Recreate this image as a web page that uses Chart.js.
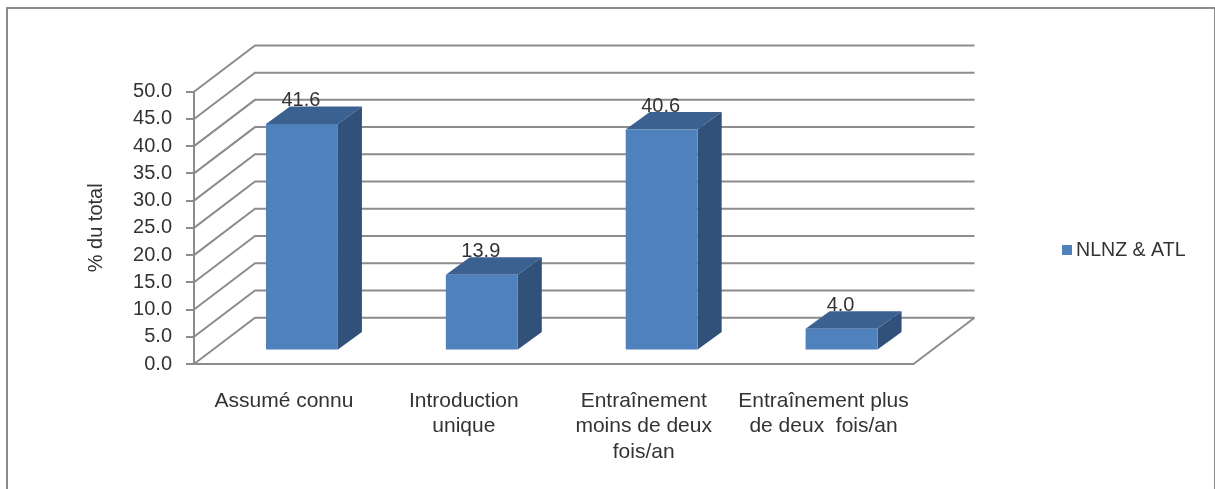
<!DOCTYPE html>
<html lang="fr">
<head>
<meta charset="utf-8">
<title>NLNZ &amp; ATL</title>
<script src="https://cdn.jsdelivr.net/npm/chart.js@4"></script>
<style>
  html, body { margin: 0; padding: 0; background: #fff; overflow: hidden; }
  #frame { position: absolute; left: 6px; top: 7px; width: 1206px; height: 500px; border: 2px solid #8c8c8c; }
  #chart { position: absolute; left: 0; top: 0; filter: blur(0.45px); }
</style>
</head>
<body>
<div id="frame"></div>
<canvas id="chart" width="1215" height="489"></canvas>
<script>
// Chart data
const categories = [
    ['Assumé connu'],
    ['Introduction', 'unique'],
    ['Entraînement', 'moins de deux', 'fois/an'],
    ['Entraînement plus', 'de deux  fois/an']
];
const values = [41.6, 13.9, 40.6, 4.0];
const seriesName = 'NLNZ & ATL';
const axisTitle = '% du total';

// Colours
const textColor = '#333333';
const lineColor = '#8c8c8c';
const frontColor = '#4f81bd';
const topColor = '#3b6191';
const sideColor = '#31517a';

// Fake 3D: the floor/wall depth and where the bars sit inside it
const wallDepth = { x: 61, y: 46.3 };
const barOffset = { x: 18, y: 13.5 };
const barDepth = { x: 24, y: 17.5 };

const fontFamily = '"Liberation Sans", Arial, sans-serif';
const font = { family: fontFamily, size: 20 };

function polygon(ctx, points, color) {
    ctx.fillStyle = color;
    ctx.beginPath();
    points.forEach(([x, y], i) => (i ? ctx.lineTo(x, y) : ctx.moveTo(x, y)));
    ctx.closePath();
    ctx.fill();
}

// Draws the back wall lines and floor, then the top and side of every bar
const depthPlugin = {
    id: 'depth',
    beforeDatasetsDraw(chart) {
        const { ctx, chartArea, scales: { y } } = chart;
        ctx.save();
        ctx.strokeStyle = lineColor;
        ctx.lineWidth = 2;
        y.ticks.forEach(tick => {
            const py = y.getPixelForValue(tick.value);
            ctx.beginPath();
            ctx.moveTo(chartArea.left, py);
            ctx.lineTo(chartArea.left + wallDepth.x, py - wallDepth.y);
            ctx.lineTo(chartArea.right + wallDepth.x, py - wallDepth.y);
            ctx.stroke();
        });
        ctx.beginPath();
        ctx.moveTo(chartArea.right, chartArea.bottom);
        ctx.lineTo(chartArea.right + wallDepth.x, chartArea.bottom - wallDepth.y);
        ctx.stroke();

        // bars are pushed back into the floor, restored in afterDatasetsDraw
        ctx.restore();
        ctx.save();
        ctx.translate(barOffset.x, -barOffset.y);
        chart.getDatasetMeta(0).data.forEach(bar => {
            const left = bar.x - bar.width / 2;
            const right = bar.x + bar.width / 2;
            polygon(ctx, [
                [left, bar.y], [right, bar.y],
                [right + barDepth.x, bar.y - barDepth.y], [left + barDepth.x, bar.y - barDepth.y]
            ], topColor);
            polygon(ctx, [
                [right, bar.y], [right + barDepth.x, bar.y - barDepth.y],
                [right + barDepth.x, bar.base - barDepth.y], [right, bar.base]
            ], sideColor);
        });
    },
    afterDatasetsDraw(chart) {
        const { ctx } = chart;
        ctx.restore();

        // value labels
        ctx.save();
        ctx.font = `${font.size}px ${fontFamily}`;
        ctx.fillStyle = textColor;
        ctx.textAlign = 'center';
        ctx.textBaseline = 'middle';
        chart.getDatasetMeta(0).data.forEach((bar, i) => {
            ctx.fillText(values[i].toFixed(1), bar.x + barOffset.x - 1, bar.y - barOffset.y - 23);
        });

        // legend
        ctx.font = `19.6px ${fontFamily}`;
        ctx.textAlign = 'left';
        ctx.fillStyle = frontColor;
        ctx.fillRect(1062, 245, 10, 10);
        ctx.fillStyle = textColor;
        ctx.fillText(chart.data.datasets[0].label, 1076, 251);
        ctx.restore();
    }
};

new Chart(document.getElementById('chart'), {
    type: 'bar',
    data: {
        labels: categories,
        datasets: [{
            label: seriesName,
            data: values,
            backgroundColor: frontColor,
            categoryPercentage: 1,
            barPercentage: 0.4
        }]
    },
    plugins: [depthPlugin],
    options: {
        responsive: false,
        animation: false,
        layout: { padding: { top: 91.7, right: 301.5, bottom: 0, left: 0 } },
        plugins: {
            legend: { display: false },
            tooltip: { enabled: false }
        },
        scales: {
            x: {
                afterFit: scale => { scale.height = 125; },
                grid: { drawOnChartArea: false, drawTicks: false },
                border: { color: lineColor, width: 2 },
                ticks: {
                    color: textColor,
                    font: { family: fontFamily, size: 21, lineHeight: 1.22 },
                    padding: 24,
                    autoSkip: false,
                    maxRotation: 0
                }
            },
            y: {
                min: 0,
                max: 50,
                afterFit: scale => { scale.width = 194; },
                grid: { drawOnChartArea: false, tickLength: 8, color: lineColor, lineWidth: 2 },
                border: { color: lineColor, width: 2 },
                ticks: {
                    stepSize: 5,
                    color: textColor,
                    font,
                    padding: 14,
                    callback: value => value.toFixed(1)
                },
                title: {
                    display: true,
                    text: axisTitle,
                    color: textColor,
                    font,
                    padding: { top: 84, bottom: 0 }
                }
            }
        }
    }
});
</script>
</body>
</html>
